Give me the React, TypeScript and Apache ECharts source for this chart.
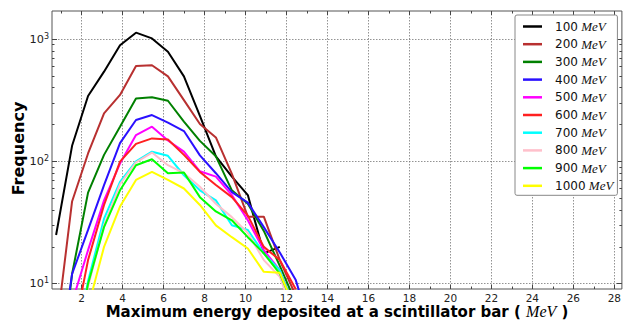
import React, { useEffect, useRef } from "react";
import * as echarts from "echarts";

// Bin centres (MeV)
const BINS = [0.75, 1.53, 2.31, 3.09, 3.87, 4.65, 5.43, 6.21, 6.99, 7.77, 8.55, 9.33, 10.11, 10.89, 11.67, 12.45, 13.23];

const ENERGIES = ["100", "200", "300", "400", "500", "600", "700", "800", "900", "1000"];
const COLORS = ["#000000", "#b83030", "#008000", "#2a10ff", "#ff00ff", "#ff2020", "#00ffff", "#ffc0cb", "#00ff00", "#ffff00"];

const F100 = [25, 134, 342, 541, 890, 1127, 1012, 787, 495, 235, 110, 75, 53, 17.7, 20, null, null];
const F200 = [4, 47, 116, 247, 349, 601, 611, 495, 317, 202, 157, 79, 35.3, 35.3, 15.6, 8, null];
const F300 = [1, 12, 55.5, 113, 192, 327, 334, 313, 211, 147, 110, 58, 45, 27, 14, 7, null];
const F400 = [1.5, 12, 27.5, 64, 141, 218, 239, 207, 177, 112, 80, 56, 46, 29, 18, 10.7, 4];
const F500 = [null, 7, 18.8, 48, 96, 164, 192, 148, 120, 83, 75, 53, 33, 18.8, 12.9, 6, null];
const F600 = [null, 3.4, 15.6, 44, 99.5, 139, 154, 151, 113, 82, 64, 51, 36, 20, 15.6, 9, null];
const F700 = [null, 2, 10.5, 34, 68, 100, 120, 111, 77, 58, 48, 30, 27.5, 17.7, 12.9, 6, null];
const F800 = [null, 2, 9.5, 30, 65, 98, 118, 93, 80, 62, 45, 35, 26, 15.6, 11.4, 5, null];
const F900 = [null, 2, 10, 29, 58, 93, 104, 80, 81, 51, 39, 33, 24, 17.7, 12.1, 6, null];
const F1000 = [null, 1, 6.4, 20, 42.7, 70.5, 82, 70.5, 60, 44, 30, 24, 19.4, 12.5, 12.3, 6, null];
const SERIES_VALUES = [F100, F200, F300, F400, F500, F600, F700, F800, F900, F1000];

const X_MAJOR = [2, 4, 6, 8, 10, 12, 14, 16, 18, 20, 22, 24, 26, 28];
const X_MINOR = [1, 3, 5, 7, 9, 11, 13, 15, 17, 19, 21, 23, 25, 27];
const Y_MAJOR = [10, 100, 1000];
const Y_MINOR = [20, 30, 40, 50, 60, 70, 80, 90, 200, 300, 400, 500, 600, 700, 800, 900];

const XMIN = 0.55;
const XMAX = 28.37;
const YMIN = 9.05;
const YMAX = 1695;

export default function App() {
  const ref = useRef<HTMLDivElement>(null);
  useEffect(() => {
    if (!ref.current) return;
    const chart = echarts.init(ref.current, null, { renderer: "svg" });
    const gridLine = { show: true, lineStyle: { color: "#777", width: 0.8, type: [1.5, 1.5] as any } };
    const tickColor = "#444";
    const mkX = (pos: string, values: number[], len: number, major: boolean, labels: boolean) => ({
      type: "value",
      min: XMIN,
      max: XMAX,
      position: pos,
      axisLine: { show: false, onZero: false },
      axisTick: { show: true, inside: true, length: len, customValues: values, lineStyle: { color: tickColor, width: 1 } },
      axisLabel: labels
        ? { show: true, customValues: values, margin: 3, fontSize: 10.5, lineHeight: 11, color: "#222", fontFamily: "DejaVu Sans" }
        : { show: false },
      splitLine: major && labels ? gridLine : { show: false },
    });
    const mkY = (pos: string, values: number[], len: number, major: boolean, labels: boolean) => ({
      type: "log",
      logBase: 10,
      min: YMIN,
      max: YMAX,
      position: pos,
      axisLine: { show: false, onZero: false },
      axisTick: { show: true, inside: true, length: len, customValues: values, lineStyle: { color: tickColor, width: 1 } },
      axisLabel: labels
        ? {
            show: true,
            customValues: values,
            margin: 3,
            formatter: (v: number) => `{b|10}{s|${Math.round(Math.log10(v))}}`,
            rich: {
              b: { fontSize: 11.3, fontFamily: "DejaVu Sans", color: "#222", lineHeight: 14 },
              s: { fontSize: 8, fontFamily: "DejaVu Sans", color: "#222", lineHeight: 8, verticalAlign: "top" },
            },
          }
        : { show: false },
      splitLine: major && labels ? gridLine : { show: false },
    });

    const series: any[] = ENERGIES.map((e, i) => ({
      type: "line",
      name: `${e} MeV`,
      xAxisIndex: 0,
      yAxisIndex: 0,
      data: BINS.map((x, j) => [x, SERIES_VALUES[i][j]]),
      showSymbol: false,
      symbol: "none",
      clip: true,
      connectNulls: false,
      lineStyle: { color: COLORS[i], width: 2 },
      itemStyle: { color: COLORS[i] },
    }));

    chart.setOption({
      animation: false,
      backgroundColor: "#fff",
      grid: { left: 52, top: 11, width: 573, height: 278, show: true, borderColor: "#555", borderWidth: 1, backgroundColor: "transparent" },
      xAxis: [
        mkX("bottom", X_MAJOR, 4, true, true),
        mkX("bottom", X_MINOR, 2.5, false, false),
        mkX("top", X_MAJOR, 4, true, false),
        mkX("top", X_MINOR, 2.5, false, false),
      ],
      yAxis: [
        mkY("left", Y_MAJOR, 5, true, true),
        mkY("left", Y_MINOR, 2.5, false, false),
        mkY("right", Y_MAJOR, 5, true, false),
        mkY("right", Y_MINOR, 2.5, false, false),
      ],
      legend: {
        orient: "vertical",
        left: 515,
        top: 15,
        padding: [5, 4, 3, 8],
        itemGap: 4.7,
        itemWidth: 19,
        itemHeight: 2.5,
        icon: "rect",
        backgroundColor: "#fff",
        borderColor: "#888",
        borderWidth: 1,
        borderRadius: 2,
        data: ENERGIES.map((e) => `${e} MeV`),
        formatter: (name: string) => `{n|${name.split(" ")[0]}} {u|MeV}`,
        textStyle: {
          rich: {
            n: { fontFamily: "DejaVu Sans", fontSize: 12, color: "#111", lineHeight: 13, padding: [0, 0, 0, 8] },
            u: { fontFamily: "Liberation Serif", fontStyle: "italic", fontSize: 13, color: "#111", lineHeight: 13 },
          },
        },
      },
      graphic: [
        {
          type: "text",
          x: 18,
          y: 148.5,
          rotation: Math.PI / 2,
          style: {
            text: "Frequency",
            fontFamily: "DejaVu Sans",
            fontWeight: "bold",
            fontSize: 16,
            fill: "#000",
            align: "center",
            verticalAlign: "middle",
          },
        },
        {
          type: "text",
          x: 337,
          y: 311.5,
          style: {
            text: "{b|Maximum energy deposited at a scintillator bar ( }{i|MeV}{b| )}",
            rich: {
              b: { fontFamily: "DejaVu Sans", fontWeight: "bold", fontSize: 15, lineHeight: 15, fill: "#000" },
              i: { fontFamily: "Liberation Serif", fontStyle: "italic", fontSize: 16, lineHeight: 15, fill: "#000" },
            },
            align: "center",
            verticalAlign: "middle",
          },
        },
      ],
      series,
    });
    return () => chart.dispose();
  }, []);
  return (
    <div
      ref={ref}
      style={{ position: "fixed", left: 0, top: 0, width: 624, height: 320, background: "#fff" }}
    />
  );
}
